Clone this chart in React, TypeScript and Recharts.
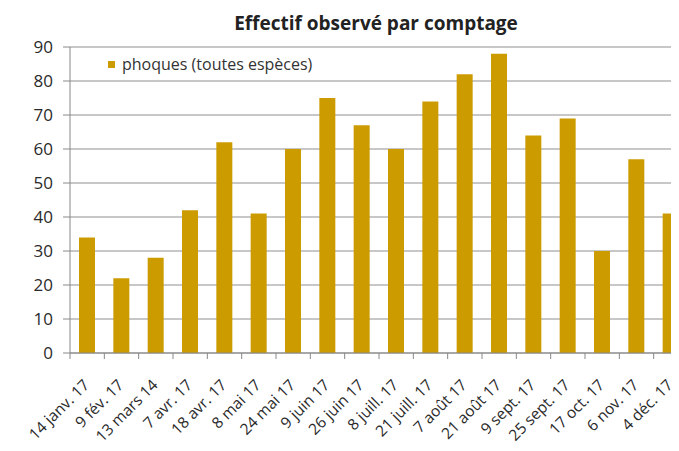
import React from "react";
import { BarChart, Bar, XAxis, YAxis, CartesianGrid, Legend } from "recharts";

const categories = [
  "14 janv. 17", "9 fév. 17", "13 mars 14", "7 avr. 17", "18 avr. 17", "8 mai 17",
  "24 mai 17", "9 juin 17", "26 juin 17", "8 juill. 17", "21 juill. 17", "7 août 17",
  "21 août 17", "9 sept. 17", "25 sept. 17", "17 oct. 17", "6 nov. 17", "4 déc. 17",
];
const phoques = [34, 22, 28, 42, 62, 41, 60, 75, 67, 60, 74, 82, 88, 64, 69, 30, 57, 41];
const yTicks = [0, 10, 20, 30, 40, 50, 60, 70, 80, 90];
const seriesName = "phoques (toutes espèces)";
const title = "Effectif observé par comptage";

const data = categories.map((c, i) => ({ date: c, phoques: phoques[i] }));

const CHART_W = 700;
const CHART_H = 451;
const MARGIN = { top: 47, right: 12, bottom: 0, left: 0 };
const Y_W = 70;
const PLOT_W = CHART_W - MARGIN.left - MARGIN.right - Y_W;
const HALF_BAND = PLOT_W / categories.length / 2;
const FONT = "'Open Sans', sans-serif";
const BAR_COLOR = "#CC9B00";

const XTick = (props: any) => {
  const { x, y, payload } = props;
  return (
    <g>
      <line x1={x - HALF_BAND} x2={x - HALF_BAND} y1={y} y2={y + 6} stroke="#888" />
      <text
        transform={`translate(${x + 3},${y + 33}) rotate(-45)`}
        textAnchor="end"
        fill="#2a2a2a"
        fontSize={15.5}
        fontFamily={FONT}
      >
        {payload.value}
      </text>
    </g>
  );
};

const LegendContent = () => (
  <div style={{ display: "flex", alignItems: "center", fontFamily: FONT, fontSize: 16, color: "#333", whiteSpace: "nowrap" }}>
    <span style={{ display: "inline-block", width: 7, height: 7, background: BAR_COLOR, marginRight: 7 }} />
    <span>{seriesName}</span>
  </div>
);

export default function App() {
  return (
    <div
      style={{
        position: "relative",
        margin: -8,
        width: 679,
        height: 451,
        overflow: "hidden",
        background: "#fff",
      }}
    >
      <div
        style={{
          position: "absolute",
          top: 10,
          left: 0,
          width: 752,
          textAlign: "center",
          fontFamily: FONT,
          fontWeight: 700,
          fontSize: 19,
          color: "#222",
          lineHeight: "26px",
        }}
      >
        {title}
      </div>
      <BarChart width={CHART_W} height={CHART_H} data={data} margin={MARGIN} barCategoryGap={0}>
        <CartesianGrid vertical={false} stroke="#8f8f8f" />
        <XAxis
          dataKey="date"
          interval={0}
          height={98}
          tickLine={false}
          tickSize={0}
          tickMargin={0}
          axisLine={{ stroke: "#888" }}
          tick={<XTick />}
        />
        <YAxis
          width={Y_W}
          domain={[0, 90]}
          ticks={yTicks}
          interval={0}
          tickLine={{ stroke: "#888" }}
          tickSize={7}
          axisLine={{ stroke: "#888" }}
          tick={{ fill: "#2a2a2a", fontSize: 17, fontFamily: FONT }}
          tickMargin={10}
        />
        <Legend
          layout="horizontal"
          verticalAlign="middle"
          align="center"
          content={<LegendContent />}
          wrapperStyle={{ position: "absolute", top: 53, left: 108, width: "auto" }}
        />
        <Bar dataKey="phoques" name={seriesName} fill={BAR_COLOR} barSize={16} isAnimationActive={false} />
      </BarChart>
    </div>
  );
}
